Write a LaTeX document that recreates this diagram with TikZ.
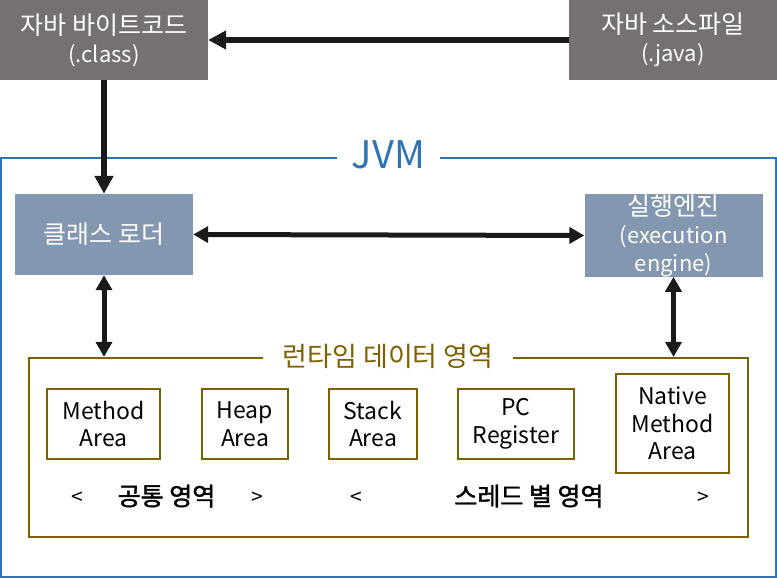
\documentclass[tikz,border=0pt]{standalone}
\usepackage{fontspec}
\setmainfont{Noto Sans CJK KR}
\newfontfamily\krsemibold[FakeBold=1.5]{Noto Sans CJK KR}
\usetikzlibrary{arrows.meta}
\definecolor{topgray}{HTML}{767171}
\definecolor{bluegray}{HTML}{8497B0}
\definecolor{jvmblue}{HTML}{2E75B6}
\definecolor{rtbrown}{HTML}{7F6000}
\definecolor{arrowblack}{HTML}{1A1A1A}
\newcommand{\latn}[1]{{\fontsize{22}{28}\selectfont #1}}
\tikzset{
  topbox/.style={fill=topgray, text=white, minimum width=208pt, minimum height=80pt, inner sep=0pt, align=center, font=\fontsize{25}{28}\selectfont},
  jvmbox/.style={fill=bluegray, text=white, minimum width=178pt, minimum height=81pt, inner sep=0pt, align=center, font=\fontsize{25}{28}\selectfont},
  areabox/.style={draw=rtbrown, line width=2.2pt, minimum height=70pt, inner sep=0pt, align=center, font=\fontsize{23}{27.5}\selectfont},
  conn/.style={draw=arrowblack, line width=6pt, -{Triangle[length=18pt,width=18pt]}},
  dconn/.style={draw=arrowblack, line width=5pt, {Triangle[length=15pt,width=16pt]}-{Triangle[length=15pt,width=16pt]}},
  bracket/.style={font=\fontsize{21}{24}\selectfont, inner sep=0pt},
  grouplbl/.style={font=\fontsize{25}{28}\selectfont\krsemibold, inner sep=0pt}
}
\begin{document}
\begin{tikzpicture}[x=1pt,y=-1pt]
\useasboundingbox (0,0) rectangle (777,578);
% JVM frame
\node[draw=jvmblue, line width=2.2pt, minimum width=775pt, minimum height=419pt, inner sep=0pt] (jvm) at (388.5,367.5) {};
\node[fill=white, text=jvmblue, minimum width=103pt, inner sep=0pt, font=\fontsize{38}{42}\selectfont] (jvmlbl) at (388.5,155) {JVM};
% runtime frame
\node[draw=rtbrown, line width=2.2pt, minimum width=719pt, minimum height=179pt, inner sep=0pt] (rt) at (388.5,447.5) {};
\node[fill=white, text=rtbrown, minimum width=250pt, inner sep=0pt, font=\fontsize{27}{30}\selectfont] (rtlbl) at (388,356) {런타임 데이터 영역};
% top boxes
\node[topbox] (cls) at (104,40) {자바 바이트코드\\\latn{(.class)}};
\node[topbox] (src) at (673,40) {자바 소스파일\\\latn{(.java)}};
% JVM boxes
\node[jvmbox] (cl) at (104,234.5) {클래스 로더};
\node[jvmbox] (ee) at (673.5,235.5) {실행엔진\\\latn{(execution}\\\latn{engine)}};
% area boxes
\node[areabox, minimum width=113pt] (ma) at (103.5,424) {Method\\Area};
\node[areabox, minimum width=86pt] (ha) at (245,424) {Heap\\Area};
\node[areabox, minimum width=88pt] (sa) at (373,424) {Stack\\Area};
\node[areabox, minimum width=116pt] (pc) at (516,424) {PC\\Register};
\node[areabox, minimum width=113pt, minimum height=99pt] (na) at (672.5,423.5) {Native\\Method\\Area};
% bottom labels
\node[bracket] (l1) at (77.5,498) {<};
\node[grouplbl] (c1) at (166.5,496) {공통 영역};
\node[bracket] (r1) at (257,498) {>};
\node[bracket] (l2) at (356,498) {<};
\node[grouplbl] (c2) at (529,496) {스레드 별 영역};
\node[bracket] (r2) at (703,498) {>};
% connectors
\draw[conn] (src.west) -- (cls.east);
\draw[conn] (cls.south) -- (cl.north);
\draw[dconn] (cl.east) -- (ee.west);
\draw[dconn] (cl.south) -- (cl.south |- rt.north);
\draw[dconn] (ee.south) -- (ee.south |- rt.north);
\end{tikzpicture}
\end{document}
